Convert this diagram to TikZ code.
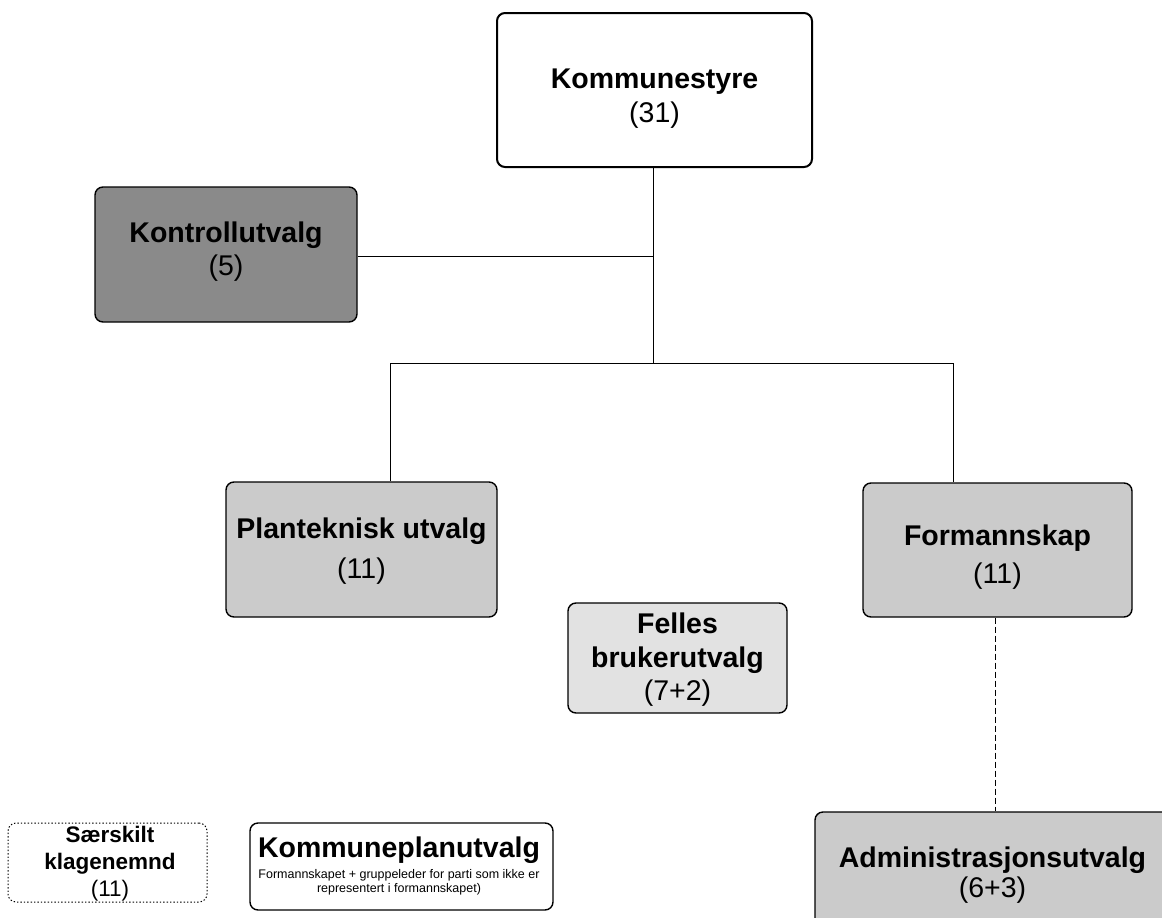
\documentclass[tikz,border=0pt]{standalone}
\usepackage{fontspec}
\setmainfont{Liberation Sans}
\begin{document}
\begin{tikzpicture}[x=1pt,y=-1pt,
  orgbox/.style={draw=black, rounded corners=8pt, line width=1.4pt, inner sep=0pt},
  ttl/.style={anchor=base, inner sep=0pt, font=\fontsize{28.5}{34}\selectfont\bfseries},
  num/.style={anchor=base, inner sep=0pt, font=\fontsize{28.5}{34}\selectfont},
  conn/.style={draw=black, line width=1pt},
  dconn/.style={draw=black, line width=1pt, dash pattern=on 6pt off 3pt}]
\useasboundingbox (0,0) rectangle (1162,918);
\definecolor{darkfill}{HTML}{8A8A8A}
\definecolor{midfill}{HTML}{CBCBCB}
\definecolor{lightfill}{HTML}{E2E2E2}

% boxes (corners)
\node[orgbox, fill=white, line width=2pt, minimum width=315pt, minimum height=154pt] (ks) at (654.5,90) {};
\node[orgbox, fill=darkfill, minimum width=262pt, minimum height=135pt] (kv) at (226,254.5) {};
\node[orgbox, fill=midfill, minimum width=271pt, minimum height=135pt] (pt) at (361.5,549.5) {};
\node[orgbox, fill=midfill, minimum width=269pt, minimum height=134pt] (fs) at (997.5,550) {};
\node[orgbox, fill=lightfill, minimum width=219pt, minimum height=110pt] (fb) at (677.5,658) {};
\node[orgbox, fill=midfill, minimum width=355pt, minimum height=130pt] (ad) at (992.5,877) {};
\node[orgbox, fill=white, dotted, line width=1pt, minimum width=199pt, minimum height=79pt] (sk) at (107.5,862.5) {};
\node[orgbox, fill=white, minimum width=303pt, minimum height=87pt] (kp) at (401.5,866.5) {};

% labels
\node[ttl] (ks1) at (654.5,88) {Kommunestyre};
\node[num] (ks2) at (654.5,122) {(31)};
\node[ttl] (kv1) at (226,242) {Kontrollutvalg};
\node[num] (kv2) at (226,275) {(5)};
\node[ttl] (pt1) at (361.5,538) {Planteknisk utvalg};
\node[num] (pt2) at (361.5,578) {(11)};
\node[ttl] (fs1) at (997.5,545) {Formannskap};
\node[num] (fs2) at (997.5,583) {(11)};
\node[ttl] (fb1) at (677.5,633) {Felles};
\node[ttl] (fb2) at (677.5,667) {brukerutvalg};
\node[num] (fb3) at (677.5,700) {(7+2)};
\node[ttl] (ad1) at (992.5,867) {Administrasjonsutvalg};
\node[num] (ad2) at (992.5,897) {(6+3)};
\node[ttl, font=\fontsize{22.5}{27}\selectfont\bfseries] (sk1) at (110,842) {Særskilt};
\node[ttl, font=\fontsize{22.5}{27}\selectfont\bfseries] (sk2) at (110,869) {klagenemnd};
\node[num, font=\fontsize{22.5}{27}\selectfont] (sk3) at (110,896) {(11)};
\node[ttl] (kp1) at (399,857) {Kommuneplanutvalg};
\node[num, font=\fontsize{12.5}{14}\selectfont] (kp2) at (399,878) {Formannskapet + gruppeleder for parti som ikke er};
\node[num, font=\fontsize{12.5}{14}\selectfont] (kp3) at (399,892) {representert i formannskapet)};

% connectors
\coordinate (jv) at (653,256);
\coordinate (jb) at (653,363);
\coordinate (jl) at (390,363);
\coordinate (jr) at (953,363);
\coordinate (dx) at (995,700);
\draw[conn] (ks.south -| jb) -- (jb);
\draw[conn] (kv.east |- jv) -- (jv);
\draw[conn] (jl) -- (jr);
\draw[conn] (jl) -- (jl |- pt.north);
\draw[conn] (jr) -- (jr |- fs.north);
\draw[dconn] (fs.south -| dx) -- (ad.north -| dx);
\end{tikzpicture}
\end{document}
